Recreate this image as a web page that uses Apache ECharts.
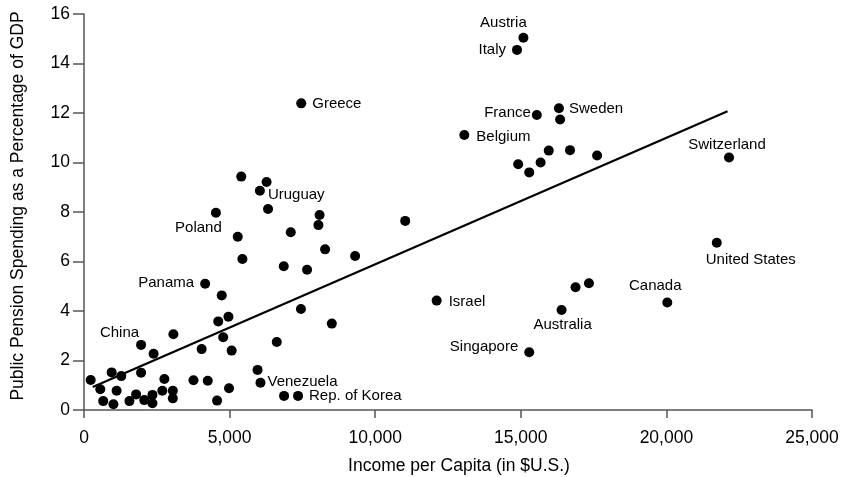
<!DOCTYPE html>
<html>
<head>
<meta charset="utf-8">
<title>Public Pension Spending vs Income</title>
<script src="https://cdn.jsdelivr.net/npm/echarts@6/dist/echarts.min.js"></script>
<style>
  html, body { margin: 0; padding: 0; background: #fff; }
  #chart { width: 844px; height: 477px; }
</style>
</head>
<body>
<div id="chart"></div>
<script>
// 国家名称（空字符串 = 无标签）
const countries = [
  "Austria", "Italy", "Greece", "France", "Sweden", "", "Belgium",
  "", "", "", "", "", "", "Switzerland",
  "United States", "Israel", "", "", "Canada", "Australia", "Singapore",
  "", "", "Uruguay", "", "", "", "", "",
  "Poland", "", "", "", "", "", "", "Panama",
  "", "", "", "", "", "", "",
  "China", "", "", "", "",
  "", "", "", "", "", "", "", "", "Venezuela", "",
  "", "", "", "", "", "", "", "", "", "", "", "", "", "", "Rep. of Korea"
];

// 人均收入（美元）
const income = [
  15090, 14870, 7460, 15550, 16310, 16350, 13060,
  14910, 15290, 15680, 15960, 16690, 17620, 22150,
  21730, 12110, 16880, 17340, 20030, 16400, 15290,
  5400, 6270, 6040, 4530, 6320, 8090, 8050, 11030,
  5280, 7100, 5440, 8280, 9310, 6860, 7660, 4160,
  4730, 4960, 4610, 7450, 8510, 4780, 6620,
  1960, 3070, 2390, 4040, 5070,
  230, 950, 1280, 1960, 2760, 3760, 4250, 5960, 6060, 4980,
  560, 1120, 1790, 2690, 3050, 3050, 2350, 2070, 2350, 660, 1010, 1560, 4570, 6870, 7350
];

// 公共养老金支出占GDP比例（%）
const pension = [
  15.04, 14.55, 12.39, 11.92, 12.19, 11.74, 11.11,
  9.93, 9.6, 10.0, 10.48, 10.5, 10.28, 10.2,
  6.76, 4.42, 4.96, 5.12, 4.34, 4.04, 2.33,
  9.43, 9.21, 8.86, 7.97, 8.12, 7.88, 7.47, 7.64,
  7.0, 7.18, 6.1, 6.49, 6.22, 5.81, 5.67, 5.1,
  4.63, 3.77, 3.58, 4.08, 3.49, 2.94, 2.75,
  2.63, 3.06, 2.27, 2.46, 2.4,
  1.21, 1.52, 1.37, 1.51, 1.25, 1.2, 1.18, 1.62, 1.1, 0.88,
  0.84, 0.78, 0.63, 0.78, 0.78, 0.47, 0.61, 0.4, 0.27, 0.36, 0.23, 0.36, 0.38, 0.57, 0.57
];

// 回归线两端点
const trendX = [300, 22100];
const trendY = [0.93, 12.07];

// 坐标轴刻度
const xTicks = { min: 0, max: 25000, interval: 5000 };
const yTicks = { min: 0, max: 16, interval: 2 };

const SYM = 10;
const FONT = "'Liberation Sans', Arial, sans-serif";

// 标签相对圆点中心的位置 [dx, dy, 对齐方式]
function place(dx, dy, align) {
  return {
    show: true,
    position: [SYM / 2 + dx, SYM / 2 + dy],
    align: align,
    verticalAlign: "middle"
  };
}

const labelPlace = {
  "Austria": place(-20, -15, "center"),
  "Italy": place(-11, 0, "right"),
  "Greece": place(11, 1, "left"),
  "France": place(-6, -2, "right"),
  "Sweden": place(10, 1, "left"),
  "Belgium": place(12, 2, "left"),
  "Switzerland": place(-2, -13, "center"),
  "United States": place(34, 17, "center"),
  "Israel": place(12, 1, "left"),
  "Canada": place(-12, -17, "center"),
  "Australia": place(1, 15, "center"),
  "Singapore": place(-11, -5, "right"),
  "Uruguay": place(8, 4, "left"),
  "Poland": place(-16, -9, "right"),
  "Panama": place(-11, -1, "right"),
  "China": place(-2, -12, "right"),
  "Venezuela": place(7, -1, "left"),
  "Rep. of Korea": place(11, 0, "left")
};

const points = income.map((x, i) => {
  const name = countries[i];
  const item = { value: [x, pension[i]], name: name };
  if (name && labelPlace[name]) {
    item.label = labelPlace[name];
  }
  return item;
});

const chart = echarts.init(document.getElementById("chart"));
const option = {
  backgroundColor: "#fff",
  animation: false,
  grid: {
    left: 84,
    right: 32,
    top: 14,
    bottom: 67,
    containLabel: false,
    outerBoundsMode: "none"
  },
  xAxis: {
    type: "value",
    min: xTicks.min,
    max: xTicks.max,
    interval: xTicks.interval,
    name: "Income per Capita (in $U.S.)",
    nameLocation: "middle",
    nameGap: 47,
    nameTextStyle: { fontFamily: FONT, fontSize: 17.5, color: "#000", padding: [0, 0, 0, 22] },
    axisLine: { show: true, lineStyle: { color: "#555", width: 1.5 } },
    axisTick: { show: true, length: 8, lineStyle: { color: "#555", width: 1.5 } },
    axisLabel: {
      margin: 19,
      fontFamily: FONT,
      fontSize: 17.5,
      color: "#000",
      formatter: (v) => v.toLocaleString("en-US")
    },
    splitLine: { show: false }
  },
  yAxis: {
    type: "value",
    min: yTicks.min,
    max: yTicks.max,
    interval: yTicks.interval,
    name: "Public Pension Spending as a Percentage of GDP",
    nameLocation: "middle",
    nameGap: 57,
    nameRotate: 90,
    nameTextStyle: { fontFamily: FONT, fontSize: 17.5, color: "#000", padding: [0, 0, 0, 12] },
    axisLine: { show: true, lineStyle: { color: "#555", width: 1.5 } },
    axisTick: { show: true, length: 11, lineStyle: { color: "#555", width: 1.5 } },
    axisLabel: { margin: 14, fontFamily: FONT, fontSize: 17.5, color: "#000" },
    splitLine: { show: false }
  },
  series: [
    {
      type: "line",
      data: [[trendX[0], trendY[0]], [trendX[1], trendY[1]]],
      symbol: "none",
      lineStyle: { color: "#000", width: 2.2 },
      silent: true,
      z: 1
    },
    {
      type: "scatter",
      data: points,
      symbol: "circle",
      symbolSize: SYM,
      itemStyle: { color: "#000", opacity: 1 },
      label: {
        show: false,
        formatter: "{b}",
        fontFamily: FONT,
        fontSize: 15,
        color: "#000"
      },
      labelLayout: { hideOverlap: false },
      z: 2
    }
  ]
};
chart.setOption(option);
</script>
</body>
</html>
